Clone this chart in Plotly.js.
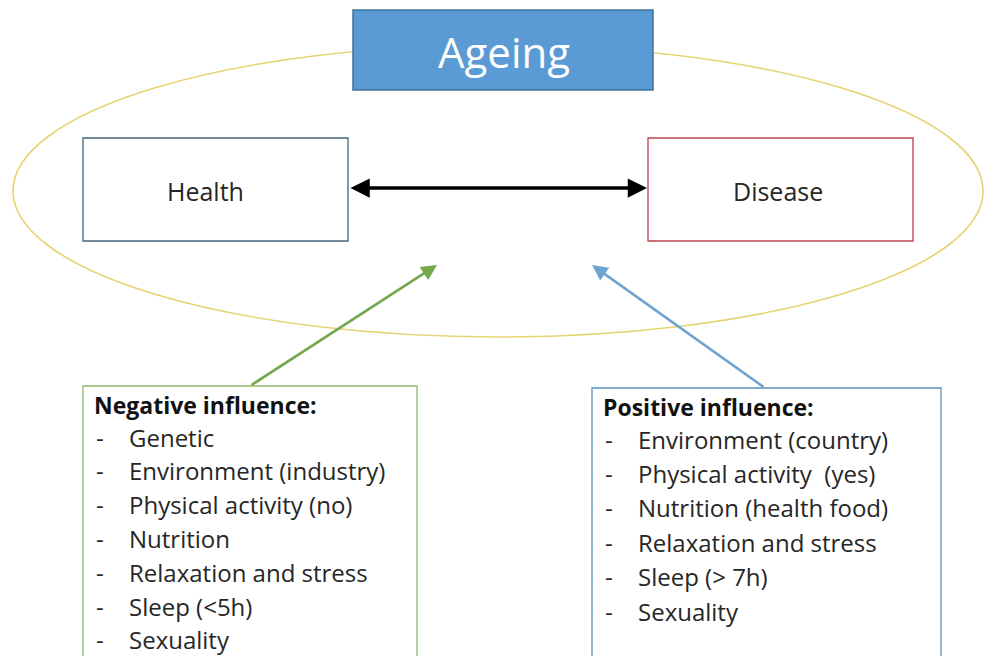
<!DOCTYPE html>
<html>
<head>
<meta charset="utf-8">
<script src="https://cdn.plot.ly/plotly-3.0.1.min.js"></script>
<style>html,body{margin:0;padding:0;background:#fff;}#chart{width:986px;height:656px;}</style>
</head>
<body>
<div id="chart"></div>
<script>
// ---- content ----
const titleLabel = "Ageing";
const stateLabels = ["Health", "Disease"];
const negativeHeader = "Negative influence:";
const negativeItems = ["Genetic", "Environment (industry)", "Physical activity (no)", "Nutrition", "Relaxation and stress", "Sleep (<5h)", "Sexuality"];
const positiveHeader = "Positive influence:";
const positiveItems = ["Environment (country)", "Physical activity  (yes)", "Nutrition (health food)", "Relaxation and stress", "Sleep (> 7h)", "Sexuality"];

const FONT = "'Open Sans', Lato, sans-serif";
const shapes = [];
const annotations = [];

// ellipse
shapes.push({type: "circle", xref: "x", yref: "y", x0: 13, x1: 983, y0: 45, y1: 337,
  line: {color: "#E6D474", width: 1.6}});
// Ageing box
shapes.push({type: "rect", x0: 353, x1: 653, y0: 10, y1: 90, fillcolor: "#5B9BD5",
  line: {color: "#41719C", width: 1.5}});
annotations.push({x: 504, y: 51, text: titleLabel, showarrow: false,
  font: {family: FONT, size: 42, color: "#ffffff"}, xanchor: "center", yanchor: "middle"});

// Health / Disease boxes
const stateBoxes = [
  {x0: 83, x1: 348, color: "#41647C", tx: 205},
  {x0: 648, x1: 913, color: "#C0404D", tx: 778}
];
stateLabels.forEach((lab, i) => {
  const b = stateBoxes[i];
  shapes.push({type: "rect", x0: b.x0, x1: b.x1, y0: 138, y1: 241, fillcolor: "#ffffff",
    line: {color: b.color, width: 1.3}});
  annotations.push({x: b.tx, y: 191, text: lab, showarrow: false,
    font: {family: FONT, size: 25, color: "#262626"}, xanchor: "center", yanchor: "middle"});
});

// double arrow
annotations.push({x: 647, y: 188, ax: 349, ay: 188, axref: "x", ayref: "y", text: "",
  showarrow: true, arrowhead: 2, arrowside: "end+start", arrowsize: 1.1, arrowwidth: 3.5,
  arrowcolor: "#000000", standoff: 0, startstandoff: 0});
// influence arrows
annotations.push({x: 437, y: 265, ax: 250, ay: 386, axref: "x", ayref: "y", text: "",
  showarrow: true, arrowhead: 2, arrowsize: 1.2, arrowwidth: 2.6, arrowcolor: "#74A84C", standoff: 0});
annotations.push({x: 592, y: 265, ax: 765, ay: 388, axref: "x", ayref: "y", text: "",
  showarrow: true, arrowhead: 2, arrowsize: 1.2, arrowwidth: 2.6, arrowcolor: "#6FA3D2", standoff: 0});

// influence boxes
function listBox(x0, x1, y0, color, header, items, headerY, firstY, step) {
  shapes.push({type: "rect", x0: x0, x1: x1, y0: y0, y1: 662, fillcolor: "#ffffff",
    line: {color: color, width: 1.3}});
  annotations.push({x: x0 + 9, y: headerY, text: "<b>" + header + "</b>", showarrow: false,
    font: {family: FONT, size: 23, color: "#111111"}, xanchor: "left", yanchor: "middle"});
  items.forEach((it, i) => {
    const yy = firstY + step * i;
    annotations.push({x: x0 + 11, y: yy, text: "-", showarrow: false,
      font: {family: FONT, size: 24, color: "#262626"}, xanchor: "left", yanchor: "middle"});
    annotations.push({x: x0 + 44, y: yy, text: it, showarrow: false,
      font: {family: FONT, size: 24, color: "#262626"}, xanchor: "left", yanchor: "middle"});
  });
}
listBox(83, 417, 386, "#8DBA6C", negativeHeader, negativeItems, 405, 437, 33.8);
listBox(592, 941, 388, "#5B93C0", positiveHeader, positiveItems, 407, 439, 34.4);

const layout = {
  width: 986, height: 656,
  margin: {l: 0, r: 0, t: 0, b: 0},
  paper_bgcolor: "#ffffff", plot_bgcolor: "#ffffff",
  xaxis: {range: [0, 986], visible: false, fixedrange: true},
  yaxis: {range: [656, 0], visible: false, fixedrange: true},
  shapes: shapes,
  annotations: annotations,
  showlegend: false
};
Plotly.newPlot("chart", [], layout, {displayModeBar: false, staticPlot: true});
</script>
</body>
</html>
